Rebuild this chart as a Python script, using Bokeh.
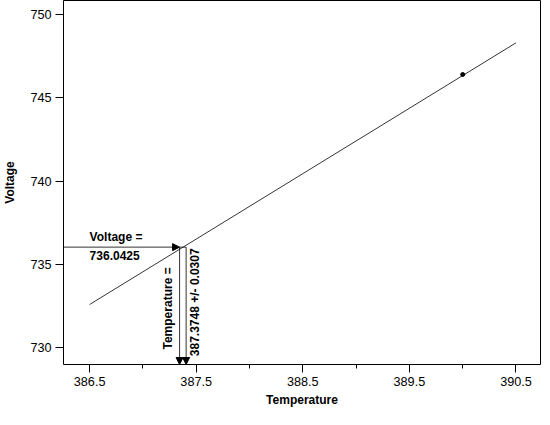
import math
from bokeh.plotting import figure
from bokeh.models import Arrow, NormalHead, FixedTicker
from bokeh.core.properties import value
from bokeh.embed import file_html
from bokeh.resources import INLINE

line_x = [386.5, 390.5]
line_y = [732.6, 748.3]
point_x = [390.0]
point_y = [746.4]
voltage = 736.0425
temperature = 387.3748
temp_err = 0.0307
x_ticks = [386.5, 387.5, 388.5, 389.5, 390.5]
x_minor = [387.0, 388.0, 389.0, 390.0]
y_ticks = [730, 735, 740, 745, 750]

FONT = "Liberation Sans"

p = figure(width=542, height=409, x_range=(386.255, 390.73), y_range=(729.0, 750.84),
           output_backend="svg", toolbar_location=None,
           min_border_left=62, min_border_right=2, min_border_top=0, min_border_bottom=40)
p.grid.visible = False
p.outline_line_color = "black"
p.background_fill_color = "white"

p.xaxis.ticker = FixedTicker(ticks=x_ticks, minor_ticks=x_minor)
p.yaxis.ticker = FixedTicker(ticks=y_ticks)
p.xaxis.axis_label = "Temperature"
p.yaxis.axis_label = "Voltage"
for ax in (p.xaxis, p.yaxis):
    ax.axis_label_text_font = FONT
    ax.axis_label_text_font_style = "bold"
    ax.axis_label_text_font_size = "9pt"
    ax.axis_label_text_color = "black"
    ax.major_label_text_font = FONT
    ax.major_label_text_font_size = "9.5pt"
    ax.major_label_text_color = "black"
    ax.major_tick_out = 8
    ax.major_tick_in = 0
    ax.minor_tick_out = 4
    ax.minor_tick_in = 0
    ax.major_tick_line_color = "black"
    ax.minor_tick_line_color = "black"
    ax.axis_line_color = None
    ax.major_label_standoff = 4
p.yaxis.axis_label_standoff = 10
p.xaxis.axis_label_standoff = 4

p.line(line_x, line_y, color="black", line_width=0.8)
p.scatter(point_x, point_y, size=4, color="black")

head = dict(size=7, fill_color="black", line_color="black", line_width=1)
p.add_layout(Arrow(end=NormalHead(**head), x_start=386.255, y_start=voltage,
                   x_end=temperature - temp_err, y_end=voltage, line_width=0.8))
for xv in (temperature - temp_err, temperature + temp_err):
    p.add_layout(Arrow(end=NormalHead(**head), x_start=xv, y_start=voltage,
                       x_end=xv, y_end=729.0, line_width=0.8))
p.segment([temperature - temp_err], [voltage], [temperature + temp_err], [voltage],
          color="black", line_width=0.8)

p.text([386.5], [736.25], text=["Voltage ="], text_font=value(FONT), text_font_style="bold",
       text_font_size="9pt", text_baseline="bottom")
p.text([386.5], [735.8], text=["736.0425"], text_font=value(FONT), text_font_style="bold",
       text_font_size="9pt", text_baseline="top")
p.text([387.30], [729.9], text=["Temperature ="], angle=math.pi / 2, text_font=value(FONT),
       text_font_style="bold", text_font_size="9pt", text_baseline="bottom")
p.text([387.55], [729.5], text=["387.3748 +/- 0.0307"], angle=math.pi / 2, text_font=value(FONT),
       text_font_style="bold", text_font_size="9pt", text_baseline="bottom")

open("out.html", "w").write(file_html(p, INLINE))
